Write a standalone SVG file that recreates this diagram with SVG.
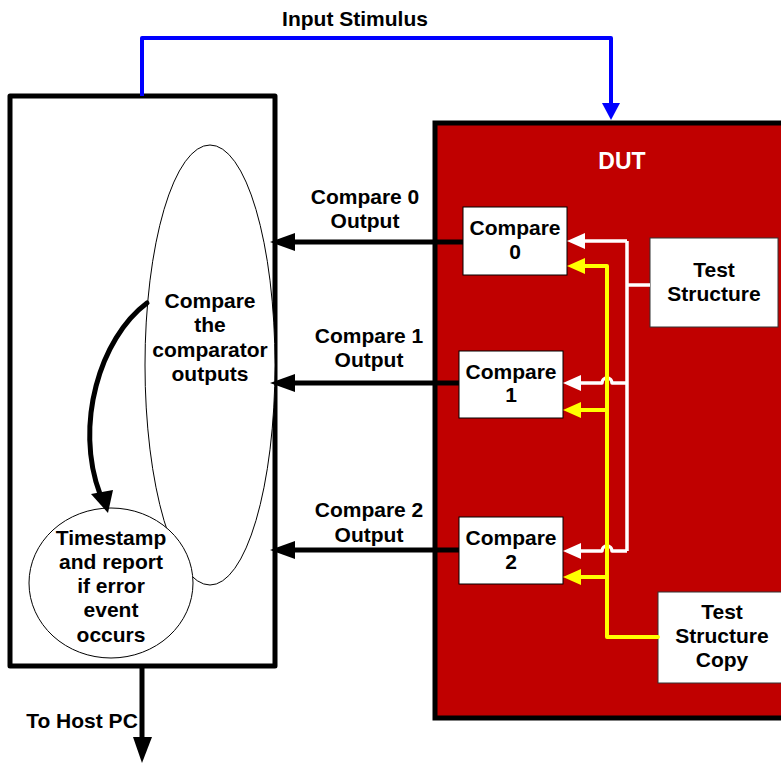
<svg xmlns="http://www.w3.org/2000/svg" width="781" height="764" viewBox="0 0 781 764">
<defs>
<style>
text{font-family:"Liberation Sans",Arial,sans-serif;font-weight:bold;font-size:21px;text-anchor:middle;fill:#000}
.w{fill:#fff;font-size:23px}
.box{fill:#fff;stroke:#000;stroke-width:1}
.blk{stroke:#000;stroke-width:5;fill:none}
.wl{stroke:#fff;stroke-width:3.5;fill:none;stroke-linejoin:round}
.yl{stroke:#ffff00;stroke-width:4;fill:none;stroke-linejoin:round;stroke-linecap:round}
</style>
</defs>
<rect width="781" height="764" fill="#fff"/>
<g id="tester">
<rect x="10" y="96" width="265" height="570" fill="#fff" stroke="#000" stroke-width="5" stroke-linejoin="round"/>
</g>
<g id="compare-ellipse">
<ellipse cx="210" cy="365" rx="65" ry="220" fill="#fff" stroke="#000" stroke-width="1"/>
<text x="210" y="308">Compare</text>
<text x="210" y="332">the</text>
<text x="210" y="357">comparator</text>
<text x="210" y="381">outputs</text>
</g>
<g id="timestamp">
<ellipse cx="111" cy="583" rx="82" ry="75" fill="#fff" stroke="#000" stroke-width="1"/>
<text x="111" y="545">Timestamp</text>
<text x="111" y="569">and report</text>
<text x="111" y="593">if error</text>
<text x="111" y="617">event</text>
<text x="111" y="642">occurs</text>
</g>
<g id="dut">
<rect x="435" y="123" width="360" height="595" fill="#c00000" stroke="#000" stroke-width="5"/>
<text class="w" x="622" y="169">DUT</text>
</g>
<g id="compare0">
<rect class="box" x="463" y="207" width="104" height="68"/>
<text x="515" y="235">Compare</text>
<text x="515" y="259">0</text>
</g>
<g id="compare1">
<rect class="box" x="459" y="351" width="104" height="67"/>
<text x="511" y="379">Compare</text>
<text x="511" y="402">1</text>
</g>
<g id="compare2">
<rect class="box" x="459" y="517" width="104" height="67"/>
<text x="511" y="545">Compare</text>
<text x="511" y="569">2</text>
</g>
<g id="test-structure">
<rect x="650" y="238" width="128" height="89" fill="#fff" stroke="#333" stroke-width="1"/>
<text x="714" y="277">Test</text>
<text x="714" y="301">Structure</text>
</g>
<g id="test-structure-copy">
<rect x="658" y="592" width="130" height="91" fill="#fff" stroke="#333" stroke-width="1"/>
<text x="722" y="619">Test</text>
<text x="722" y="643">Structure</text>
<text x="722" y="667">Copy</text>
</g>
<g id="connectors">
<path d="M142,96 V38 H611 V104" fill="none" stroke="#0000ff" stroke-width="4" stroke-linejoin="round"/>
<polygon points="602,103 620,103 611,120" fill="#0000ff"/>
<text x="355" y="26">Input Stimulus</text>
<line class="blk" x1="463" y1="242" x2="290" y2="242"/>
<polygon points="295,233 295,251 270,242" fill="#000"/>
<line class="blk" x1="459" y1="383" x2="290" y2="383"/>
<polygon points="295,374 295,392 270,383" fill="#000"/>
<line class="blk" x1="459" y1="550" x2="290" y2="550"/>
<polygon points="295,541 295,559 270,550" fill="#000"/>
<text x="365" y="204">Compare 0</text>
<text x="365" y="228">Output</text>
<text x="369" y="343">Compare 1</text>
<text x="369" y="367">Output</text>
<text x="369" y="517">Compare 2</text>
<text x="369" y="542">Output</text>
<path d="M650,285 H627 M627,241 V551 M627,241 H580 M627,383 H612 A5,5 0 0 0 602,383 H580 M627,551 H612 A5,5 0 0 0 602,551 H580" class="wl"/>
<polygon points="585,233 585,249 567,241" fill="#fff"/>
<polygon points="581,375 581,391 563,383" fill="#fff"/>
<polygon points="581,543 581,559 563,551" fill="#fff"/>
<path d="M580,266 H607 V637 H658 M607,410 H580 M607,577 H580" class="yl"/>
<polygon points="585,258 585,274 567,266" fill="#ffff00"/>
<polygon points="581,402 581,418 563,410" fill="#ffff00"/>
<polygon points="581,569 581,585 563,577" fill="#ffff00"/>
<path d="M147,303 C100,338 74,425 100,494" fill="none" stroke="#000" stroke-width="5" stroke-linecap="round"/>
<polygon points="91,494 113,490 108,513" fill="#000"/>
<line class="blk" x1="142" y1="666" x2="142" y2="740"/>
<polygon points="133,737 152,737 142,763" fill="#000"/>
<text x="82" y="728">To Host PC</text>
</g>
</svg>
